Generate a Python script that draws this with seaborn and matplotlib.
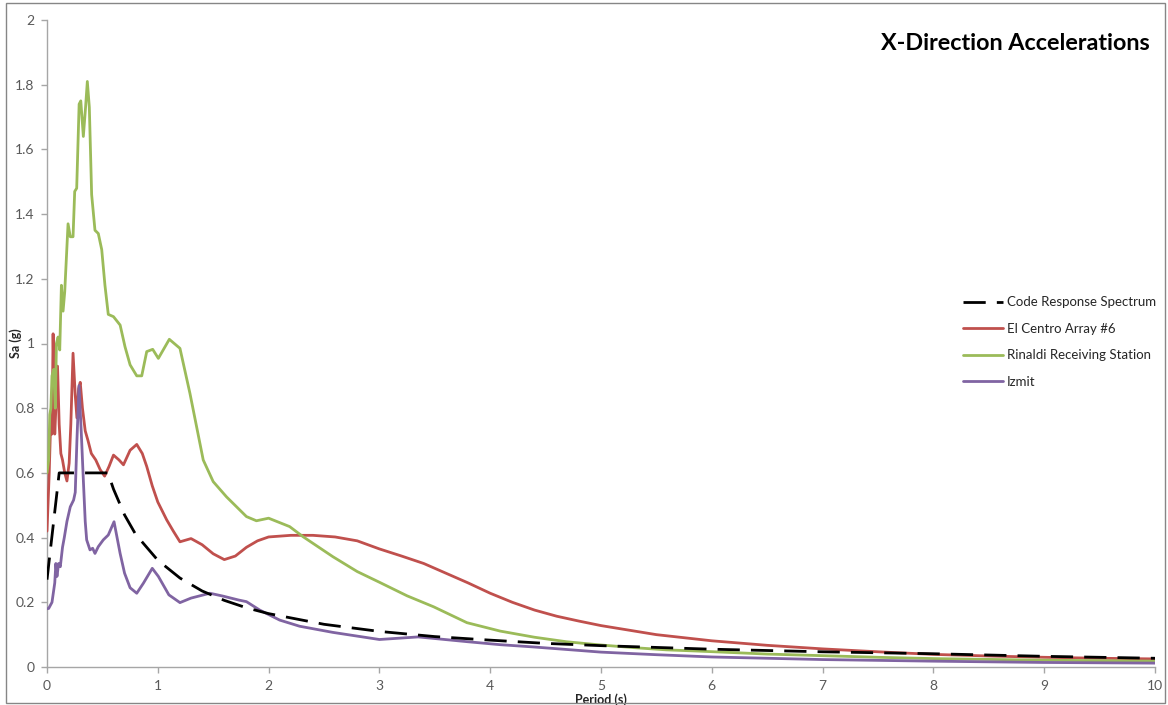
import numpy as np
import pandas as pd
import matplotlib
matplotlib.use("Agg")
import matplotlib.pyplot as plt
import seaborn as sns
from matplotlib.patches import Rectangle
from matplotlib.ticker import FuncFormatter

# ---------------- data ----------------
code_T = [0.0, 0.11, 0.2, 0.3, 0.4, 0.5, 0.55, 0.6, 0.7, 0.8, 0.9, 1.0, 1.2, 1.4, 1.6,
          1.8, 2.0, 2.5, 3.0, 3.5, 4.0, 4.5, 5.0, 6.0, 7.0, 8.0, 9.0, 10.0]
code_Sa = [0.27, 0.60, 0.60, 0.60, 0.60, 0.60, 0.60, 0.55, 0.47, 0.41, 0.37, 0.33, 0.275,
           0.235, 0.206, 0.183, 0.165, 0.132, 0.11, 0.094, 0.083, 0.073, 0.066, 0.055,
           0.047, 0.041, 0.033, 0.027]

elcentro_T = [0.0, 0.02, 0.035, 0.045, 0.055, 0.07, 0.08, 0.095, 0.11, 0.125, 0.14, 0.16,
              0.18, 0.2, 0.215, 0.235, 0.255, 0.27, 0.285, 0.3, 0.32, 0.345, 0.37, 0.4,
              0.44, 0.48, 0.52, 0.56, 0.6, 0.65, 0.69, 0.75, 0.81, 0.86, 0.9, 0.95, 1.0,
              1.08, 1.14, 1.2, 1.3, 1.4, 1.5, 1.6, 1.7, 1.8, 1.9, 2.0, 2.2, 2.4, 2.6, 2.8,
              3.0, 3.2, 3.4, 3.6, 3.8, 4.0, 4.2, 4.4, 4.6, 4.8, 5.0, 5.5, 6.0, 6.5, 7.0,
              7.5, 8.0, 8.5, 9.0, 9.5, 10.0]
elcentro_Sa = [0.42, 0.60, 0.78, 0.72, 1.03, 0.72, 0.80, 0.93, 0.75, 0.66, 0.64, 0.60,
               0.575, 0.63, 0.75, 0.97, 0.84, 0.77, 0.86, 0.88, 0.80, 0.73, 0.70, 0.66,
               0.64, 0.61, 0.59, 0.62, 0.655, 0.64, 0.625, 0.67, 0.688, 0.66, 0.62, 0.56,
               0.51, 0.455, 0.42, 0.387, 0.397, 0.378, 0.35, 0.332, 0.343, 0.37, 0.39,
               0.402, 0.407, 0.407, 0.402, 0.39, 0.365, 0.343, 0.32, 0.29, 0.26, 0.228,
               0.2, 0.176, 0.157, 0.142, 0.128, 0.1, 0.081, 0.067, 0.056, 0.047, 0.039,
               0.034, 0.03, 0.027, 0.025]

rinaldi_T = [0.0, 0.015, 0.025, 0.035, 0.045, 0.06, 0.075, 0.085, 0.1, 0.115, 0.13, 0.145,
             0.16, 0.19, 0.21, 0.235, 0.25, 0.268, 0.29, 0.305, 0.328, 0.348, 0.364, 0.382,
             0.403, 0.433, 0.463, 0.494, 0.523, 0.553, 0.6, 0.66, 0.704, 0.75, 0.81, 0.855,
             0.9, 0.954, 1.005, 1.104, 1.2, 1.29, 1.41, 1.5, 1.62, 1.8, 1.89, 2.0, 2.19,
             2.31, 2.58, 2.8, 3.0, 3.25, 3.49, 3.79, 4.09, 4.4, 4.69, 5.0, 5.29, 5.59, 5.89,
             6.5, 7.0, 7.5, 8.0, 9.0, 10.0]
rinaldi_Sa = [0.60, 0.64, 0.78, 0.80, 0.90, 0.92, 0.80, 1.00, 1.02, 0.98, 1.18, 1.10, 1.16,
              1.37, 1.33, 1.33, 1.47, 1.48, 1.74, 1.75, 1.64, 1.73, 1.81, 1.73, 1.46, 1.35,
              1.34, 1.29, 1.18, 1.09, 1.083, 1.057, 0.99, 0.934, 0.90, 0.90, 0.975, 0.982,
              0.954, 1.013, 0.985, 0.846, 0.64, 0.573, 0.526, 0.465, 0.452, 0.46, 0.434,
              0.403, 0.341, 0.295, 0.262, 0.22, 0.186, 0.137, 0.111, 0.092, 0.078, 0.068,
              0.06, 0.053, 0.049, 0.04, 0.035, 0.03, 0.026, 0.021, 0.018]

izmit_T = [0.0, 0.015, 0.045, 0.07, 0.08, 0.09, 0.105, 0.12, 0.14, 0.156, 0.18, 0.21, 0.24,
           0.255, 0.27, 0.289, 0.31, 0.328, 0.345, 0.358, 0.388, 0.412, 0.433, 0.463, 0.508,
           0.553, 0.605, 0.66, 0.7, 0.75, 0.81, 0.87, 0.95, 1.005, 1.1, 1.2, 1.3, 1.47,
           1.59, 1.73, 1.8, 1.92, 2.1, 2.28, 2.58, 3.0, 3.35, 3.8, 4.09, 4.39, 5.0, 5.5,
           6.0, 7.0, 8.0, 9.0, 10.0]
izmit_Sa = [0.18, 0.181, 0.20, 0.26, 0.32, 0.28, 0.32, 0.31, 0.37, 0.40, 0.45, 0.495, 0.516,
            0.54, 0.70, 0.87, 0.72, 0.578, 0.45, 0.393, 0.362, 0.367, 0.351, 0.372, 0.393,
            0.408, 0.449, 0.351, 0.29, 0.245, 0.228, 0.259, 0.305, 0.28, 0.223, 0.199,
            0.213, 0.228, 0.219, 0.207, 0.202, 0.176, 0.145, 0.126, 0.107, 0.085, 0.093,
            0.078, 0.069, 0.062, 0.046, 0.038, 0.031, 0.023, 0.018, 0.014, 0.012]

series_names = ["Code Response Spectrum", "El Centro Array #6",
                "Rinaldi Receiving Station", "Izmit"]
x_ticks = [0, 1, 2, 3, 4, 5, 6, 7, 8, 9, 10]
y_ticks = [0, 0.2, 0.4, 0.6, 0.8, 1.0, 1.2, 1.4, 1.6, 1.8, 2.0]
title = "X-Direction Accelerations"
x_label = "Period (s)"
y_label = "Sa (g)"

# ---------------- style ----------------
sns.set_theme(style="white")
plt.rcParams['font.family'] = ['Lato', 'DejaVu Sans']

W, H = 1168, 705
fig = plt.figure(figsize=(W / 100, H / 100), dpi=100)
ax = fig.add_axes([47 / W, (H - 667) / H, 1108 / W, 647 / H])

lw = 2.0
sns.lineplot(x=elcentro_T, y=elcentro_Sa, ax=ax, color="#C0504D", lw=lw,
             estimator=None, sort=False, label=series_names[1], zorder=3)
sns.lineplot(x=rinaldi_T, y=rinaldi_Sa, ax=ax, color="#9BBB59", lw=lw,
             estimator=None, sort=False, label=series_names[2], zorder=3)
sns.lineplot(x=izmit_T, y=izmit_Sa, ax=ax, color="#8064A2", lw=lw,
             estimator=None, sort=False, label=series_names[3], zorder=4)
sns.lineplot(x=code_T, y=code_Sa, ax=ax, color="black", lw=lw,
             linestyle=(0, (8, 4)), estimator=None, sort=False,
             label=series_names[0], zorder=5)

ax.set_xlim(0, 10)
ax.set_ylim(0, 2)
ax.set_xticks(x_ticks)
ax.set_yticks(y_ticks)
ax.yaxis.set_major_formatter(FuncFormatter(lambda v, p: f"{v:g}"))
ax.xaxis.set_major_formatter(FuncFormatter(lambda v, p: f"{v:g}"))

for s in ["top", "right"]:
    ax.spines[s].set_visible(False)
for s in ["left", "bottom"]:
    ax.spines[s].set_color("#A6A6A6")
    ax.spines[s].set_linewidth(1.0)

ax.tick_params(axis="both", which="major", direction="out", length=4, width=1,
               color="#A6A6A6", labelsize=10, labelcolor="#595959",
               bottom=True, left=True, pad=5)

ax.set_xlabel(x_label, fontsize=9, fontweight="bold", color="#262626")
ax.xaxis.set_label_coords(0.5, -0.040)
ax.set_ylabel(y_label, fontsize=9, fontweight="bold", color="#262626")
ax.yaxis.set_label_coords(-0.0226, 0.5)

handles, labels = ax.get_legend_handles_labels()
order = [labels.index(n) for n in series_names]
leg = ax.legend([handles[i] for i in order], [labels[i] for i in order],
                loc="center left", bbox_to_anchor=((963 - 47) / 1108, (667 - 342) / 647),
                frameon=False, fontsize=9.5, handlelength=3.0, handletextpad=0.3,
                labelspacing=1.1, borderpad=0, borderaxespad=0)
for t in leg.get_texts():
    t.set_color("#262626")

fig.text(1150 / W, 1 - 44 / H, title, ha="right", va="center",
         fontsize=16.8, fontweight="bold", color="black")

fig.add_artist(Rectangle((6 / W, 2 / H), (1165 - 6) / W, (702 - 2) / H, fill=False,
                         ec="#868686", lw=1.0, transform=fig.transFigure))

fig.savefig("out.png", dpi=100)
